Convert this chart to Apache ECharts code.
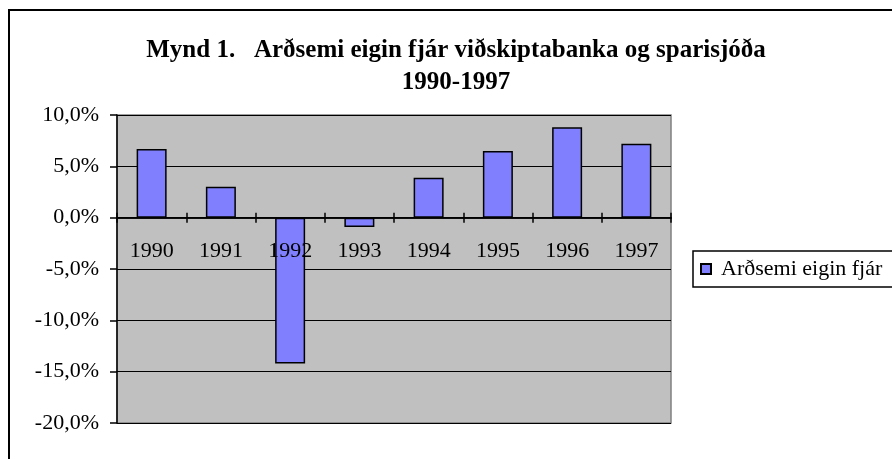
<!DOCTYPE html>
<html>
<head>
<meta charset="utf-8">
<script src="https://cdn.jsdelivr.net/npm/echarts@6/dist/echarts.min.js"></script>
<style>
  html, body { margin: 0; padding: 0; background: #fff; overflow: hidden; }
  #chart { width: 892px; height: 459px; }
</style>
</head>
<body>
<div id="chart"></div>
<script>
// ár og arðsemi eigin fjár (%)
const years = ['1990', '1991', '1992', '1993', '1994', '1995', '1996', '1997'];
const ardsemi = [6.7, 3.0, -14.2, -0.9, 3.9, 6.5, 8.8, 7.2];
const yTicks = { min: -20, max: 10, step: 5 };
const seriesName = 'Arðsemi eigin fjár';
const titleText = 'Mynd 1.   Arðsemi eigin fjár viðskiptabanka og sparisjóða\n1990-1997';

const font = "'Liberation Serif', 'Times New Roman', serif";
const gridTop = 115, gridHeight = 308;
// fjarlægð frá efri brún að núll-línunni
const zeroOffset = gridHeight * yTicks.max / (yTicks.max - yTicks.min);

const chart = echarts.init(document.getElementById('chart'));

chart.setOption({
  animation: false,
  title: {
    text: titleText,
    left: 451,
    top: 30,
    textAlign: 'center',
    textStyle: { fontFamily: font, fontWeight: 'bold', fontSize: 25, lineHeight: 32, color: '#000' }
  },
  // ramminn utan um myndina (hægri og neðri brún eru utan myndar)
  graphic: [{
    type: 'rect',
    shape: { x: 9, y: 10, width: 920, height: 500 },
    style: { fill: 'none', stroke: '#000', lineWidth: 2 },
    silent: true
  }],
  legend: {
    data: [seriesName],
    left: 693,
    top: 251,
    orient: 'vertical',
    padding: [7, 40, 7, 7],
    itemWidth: 10,
    itemHeight: 10,
    itemGap: 0,
    icon: 'rect',
    borderColor: '#000',
    borderWidth: 1.5,
    backgroundColor: '#fff',
    textStyle: { fontFamily: font, fontSize: 22, color: '#000', padding: [0, 0, 0, 5] }
  },
  grid: {
    left: 117,
    top: gridTop,
    width: 554,
    height: gridHeight,
    show: true,
    backgroundColor: '#C0C0C0',
    borderColor: '#808080',
    borderWidth: 1.5
  },
  xAxis: [{
    type: 'category',
    data: years,
    z: 3,
    axisLine: { onZero: true, onZeroAxisIndex: 0, lineStyle: { color: '#000', width: 1.5 } },
    axisTick: { show: true, length: 5, lineStyle: { color: '#000', width: 1.5 } },
    axisLabel: { show: false }
  }, {
    type: 'category',
    data: years,
    position: 'bottom',
    z: 3,
    axisLine: { onZero: true, onZeroAxisIndex: 0, lineStyle: { color: '#000', width: 1.5 } },
    axisTick: { show: true, inside: true, length: 5, lineStyle: { color: '#000', width: 1.5 } },
    axisLabel: { show: false }
  }, {
    // ártölin undir núll-línunni
    type: 'category',
    data: years,
    position: 'top',
    offset: -zeroOffset,
    z: 4,
    axisLine: { show: false, onZero: false },
    axisTick: { show: false },
    axisLabel: { inside: true, margin: 23, fontFamily: font, fontSize: 22, color: '#000' }
  }],
  yAxis: {
    type: 'value',
    min: yTicks.min,
    max: yTicks.max,
    interval: yTicks.step,
    axisLine: { show: true, lineStyle: { color: '#000', width: 1.5 } },
    axisTick: { show: true, length: 7, lineStyle: { color: '#000', width: 1.5 } },
    splitLine: { show: true, lineStyle: { color: '#000', width: 1 } },
    axisLabel: {
      margin: 18,
      fontFamily: font,
      fontSize: 22,
      color: '#000',
      formatter: v => v.toFixed(1).replace('.', ',') + '%'
    }
  },
  series: [{
    name: seriesName,
    type: 'bar',
    data: ardsemi,
    barWidth: 30,
    itemStyle: { color: '#8080FF', borderColor: '#000', borderWidth: 1.5 }
  }]
});
</script>
</body>
</html>
